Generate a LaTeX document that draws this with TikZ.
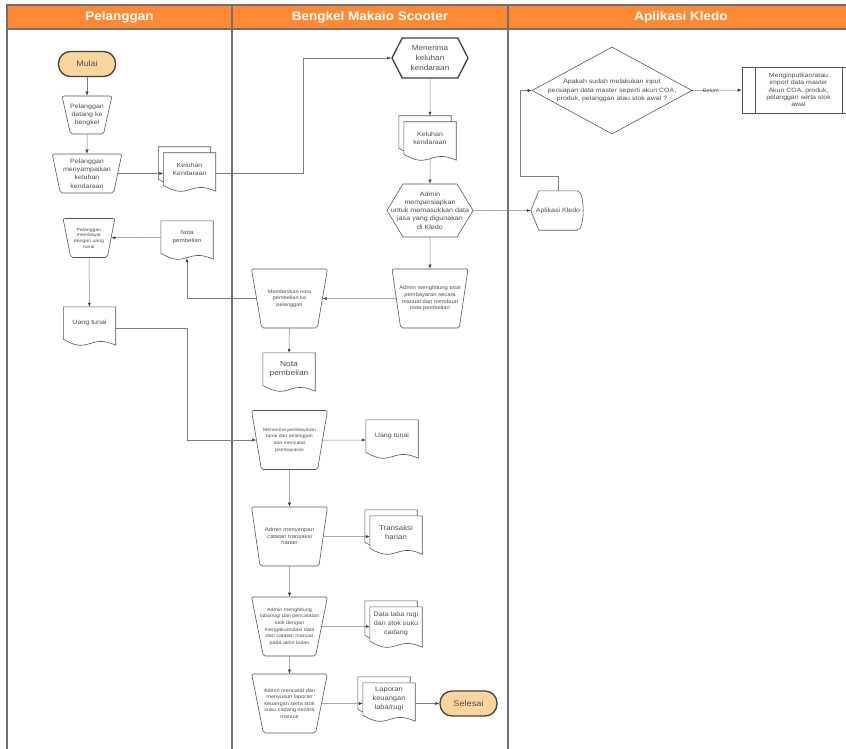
\documentclass[tikz,border=0pt]{standalone}
\usepackage{fontspec}
\setmainfont[FakeStretch=1.12]{Liberation Sans}
\newfontfamily\headfont[FakeStretch=1.08]{Liberation Sans}
\usetikzlibrary{shapes.geometric,shapes.symbols,arrows.meta,calc}

\definecolor{headorange}{RGB}{255,138,51}
\definecolor{peach}{RGB}{251,212,158}
\definecolor{lanegray}{RGB}{112,112,112}
\definecolor{txt}{RGB}{78,78,78}
\definecolor{border}{RGB}{85,85,85}
\definecolor{wire}{RGB}{125,125,125}

\pgfdeclarelayer{back}
\pgfsetlayers{back,main}

\newcommand{\fs}[2]{\fontsize{#1}{#2}\selectfont}
% outline of a document, shifted by (#2,#3)
\newcommand{\docout}[3]{%
  \draw[docline] ([shift={(#2,#3)}]#1.south west) -- ([shift={(#2,#3)}]#1.north west)
    -- ([shift={(#2,#3)}]#1.north east) -- ([shift={(#2,#3+6)}]#1.south east)
    .. controls ([shift={(#2,#3-6)}]#1.south) and ([shift={(#2,#3+16)}]#1.south)
    .. ([shift={(#2,#3)}]#1.south west) -- cycle;}
\newcommand{\docshape}[1]{\begin{pgfonlayer}{back}\docout{#1}{0}{0}\end{pgfonlayer}}
\newcommand{\stackshape}[1]{\begin{pgfonlayer}{back}\docout{#1}{-5}{-6}\docout{#1}{0}{0}\end{pgfonlayer}}

\begin{document}
\begin{tikzpicture}[x=1pt,y=-1pt,
  every node/.style={text=txt, align=center, inner sep=1},
  terminal/.style={rectangle, rounded corners=12, draw=black!75, line width=1.3, fill=peach,
    minimum width=57, minimum height=25, font=\fs{8}{10}},
  manual/.style={trapezium, trapezium stretches=true, shape border rotate=180,
    trapezium left angle=76, trapezium right angle=76, draw=border, line width=0.6, fill=white,
    rounded corners=2, minimum width=76, minimum height=59, inner xsep=-8, font=\fs{5}{6.6}},
  prep/.style={signal, signal to=east and west, draw=border, line width=0.6, fill=white},
  doc/.style={rectangle, minimum width=52, minimum height=32, font=\fs{6.3}{8.5}},
  docline/.style={draw=border, line width=0.6, fill=white},
  flow/.style={draw=wire, line width=0.5, -{Latex[length=4,width=3.2,color=black!75]}},
  lane/.style={draw=lanegray, line width=1.3},
  header/.style={text=white, font=\headfont\bfseries\fs{12.5}{14}},
  predef/.style={rectangle, draw=border, line width=0.6, minimum width=113, minimum height=46,
    font=\fs{6.2}{7.3}, path picture={
      \draw[draw=border, line width=0.6]
        ([xshift=13]path picture bounding box.north west) -- ([xshift=13]path picture bounding box.south west)
        ([xshift=-13]path picture bounding box.north east) -- ([xshift=-13]path picture bounding box.south east);}}
]
\useasboundingbox (0,0) rectangle (846,749);

% swimlanes
\fill[headorange] (7,5) rectangle (846,29);
\draw[lane] (846,5) -- (7,5) -- (7,749);
\draw[lane] (7,29) -- (846,29);
\draw[lane] (232,5) -- (232,749);
\draw[lane] (508,5) -- (508,749);
\node[header] (hpel) at (119.5,17) {Pelanggan};
\node[header] (hbeng) at (370,17) {Bengkel Makaio Scooter};
\node[header] (hapl) at (681,17) {Aplikasi Kledo};

% Pelanggan
\node[terminal] (mulai) at (87,64) {Mulai};
\node[manual, minimum width=50, minimum height=38, trapezium left angle=75, trapezium right angle=75,
  inner xsep=-4, font=\fs{6.3}{8.3}] (datang) at (87,115) {Pelanggan\\datang ke\\bengkel};
\node[manual, minimum width=70, minimum height=39, trapezium left angle=79, trapezium right angle=79,
  inner xsep=-4, font=\fs{6.3}{8.3}] (sampaikan) at (87,173.5) {Pelanggan\\menyampaikan\\keluhan\\kendaraan};
\node[doc, font=\fs{6.2}{8.3}] (keluhanA) at (189.5,169) {Keluhan\\Kendaraan};
\stackshape{keluhanA}
\node[manual, minimum width=52, minimum height=39, trapezium left angle=77, trapezium right angle=77,
  inner xsep=-3, font=\fs{4.6}{5.6}] (bayar) at (89,238) {Pelanggan\\membayar\\dengan uang\\tunai};
\node[doc, font=\fs{5.6}{7.5}] (notaA) at (187,237) {Nota\\pembelian};
\docshape{notaA}
\node[doc] (uangA) at (89.5,323) {Uang tunai};
\docshape{uangA}

% Bengkel Makaio Scooter
\node[prep, minimum width=76, minimum height=40, signal pointer angle=126, line width=1.3,
  draw=black!75, font=\fs{7.3}{10.3}] (terima) at (430,58) {Menerima\\keluhan\\kendaraan};
\node[doc] (keluhanB) at (430,138) {Keluhan\\kendaraan};
\stackshape{keluhanB}
\node[prep, minimum width=86, minimum height=53, signal pointer angle=118, inner xsep=-12,
  font=\fs{6.4}{8.2}] (siap) at (430,210.5) {Admin\\mempersiapkan\\untuk memasukkan data\\jasa yang digunakan\\di Kledo};
\node[manual, font=\fs{5.2}{6.6}] (hitung) at (430,298.5) {Admin menghitung total\\pembayaran secara\\manual dan membuat\\nota pembelian};
\node[manual] (beri) at (289.5,298.5) {Memberikan nota\\pembelian ke\\pelanggan};
\node[doc, font=\fs{7.5}{9.5}] (notaB) at (289,369) {Nota\\pembelian};
\docshape{notaB}
\node[manual, font=\fs{4.6}{6.6}] (terimabayar) at (289.5,440) {Menerima pembayaran\\tunai dari pelanggan\\dan mencatat\\pembayaran};
\node[doc] (uangB) at (392,436) {Uang tunai};
\docshape{uangB}
\node[manual, font=\fs{5.3}{6.6}] (simpan) at (289.5,536.5) {Admin menyimpan\\catatan transaksi\\harian};
\node[doc, font=\fs{7}{9}] (transaksi) at (396,532) {Transaksi\\harian};
\stackshape{transaksi}
\node[manual, font=\fs{4.8}{6.6}] (laba) at (289.5,626.5) {Admin menghitung\\laba/rugi dan pencatatan\\stok dengan\\mengakumulasi data\\dari catatan manual\\pada akhir bulan};
\node[doc, minimum height=34, font=\fs{6.4}{9}] (datalaba) at (396,624) {Data laba rugi\\dan stok suku\\cadang};
\stackshape{datalaba}
\node[manual] (catat) at (289.5,703.5) {Admin mencatat dan\\menyusun laporan\\keuangan serta stok\\suku cadang secara\\manual};
\node[doc, font=\fs{6.7}{9}] (laporan) at (389,699) {Laporan\\keuangan\\laba/rugi};
\stackshape{laporan}
\node[terminal, font=\fs{8.2}{10}] (selesai) at (468.5,703.5) {Selesai};

% Aplikasi Kledo
\node[diamond, aspect=1.84, draw=border, line width=0.6, fill=white, minimum width=160, minimum height=87,
  inner sep=-3, text width=130, font=\fs{6.2}{8.7}] (cek) at (612,90.5)
  {Apakah sudah melakukan input\\persiapan data master seperti akun COA,\\produk, pelanggan atau stok awal ?};
\node[predef] (masukkan) at (798.5,90) {Menginputkan/atau\\import data master\\Akun COA, produk,\\pelanggan serta stok\\awal};
\node[rectangle, minimum width=54, minimum height=39, font=\fs{6.3}{8}] (kledo) at (558,210.5) {Aplikasi Kledo};
\draw[draw=border, line width=0.6] ([xshift=8]kledo.north west) -- ([xshift=-8]kledo.north east)
  .. controls (kledo.north east) and (kledo.south east) .. ([xshift=-8]kledo.south east)
  -- ([xshift=8]kledo.south west) -- (kledo.west) -- cycle;

% connectors
\coordinate (k1) at (303,173);
\coordinate (k2) at (520,176);
\coordinate (k4) at (187,328);
\draw[flow] (mulai) -- (datang);
\draw[flow] (datang) -- (sampaikan);
\draw[flow] (sampaikan) -- (sampaikan -| keluhanA.west);
\draw[flow] (keluhanA.east |- k1) -- (k1) |- (terima);
\draw[flow] (terima) -- ([yshift=6]keluhanB.north);
\draw[flow] ([yshift=-4]keluhanB.south) -- (siap);
\draw[flow] (siap) -- (hitung);
\draw[flow] (siap) -- (kledo);
\draw[flow] (kledo.north) |- (k2) |- (cek);
\draw[flow] (cek) -- node[pos=0.38, font=\fs{5}{6}] (belum) {Belum} (masukkan);
\draw[flow] (hitung) -- (beri);
\draw[flow] (beri) -| ([yshift=-5]notaA.south);
\draw[flow] (notaA) -- (bayar);
\draw[flow] (bayar) -- (uangA);
\draw[flow] (uangA.east |- k4) -- (k4) |- (terimabayar);
\draw[flow] (beri) -- (notaB);
\draw[flow] (terimabayar) -- (terimabayar -| uangB.west);
\draw[flow] (terimabayar) -- (simpan);
\draw[flow] (simpan) -- (simpan -| transaksi.west);
\draw[flow] (simpan) -- (laba);
\draw[flow] (laba) -- (laba -| datalaba.west);
\draw[flow] (laba) -- (catat);
\draw[flow] (catat) -- (catat -| laporan.west);
\draw[flow] (laporan.east |- selesai) -- (selesai);
\end{tikzpicture}
\end{document}
